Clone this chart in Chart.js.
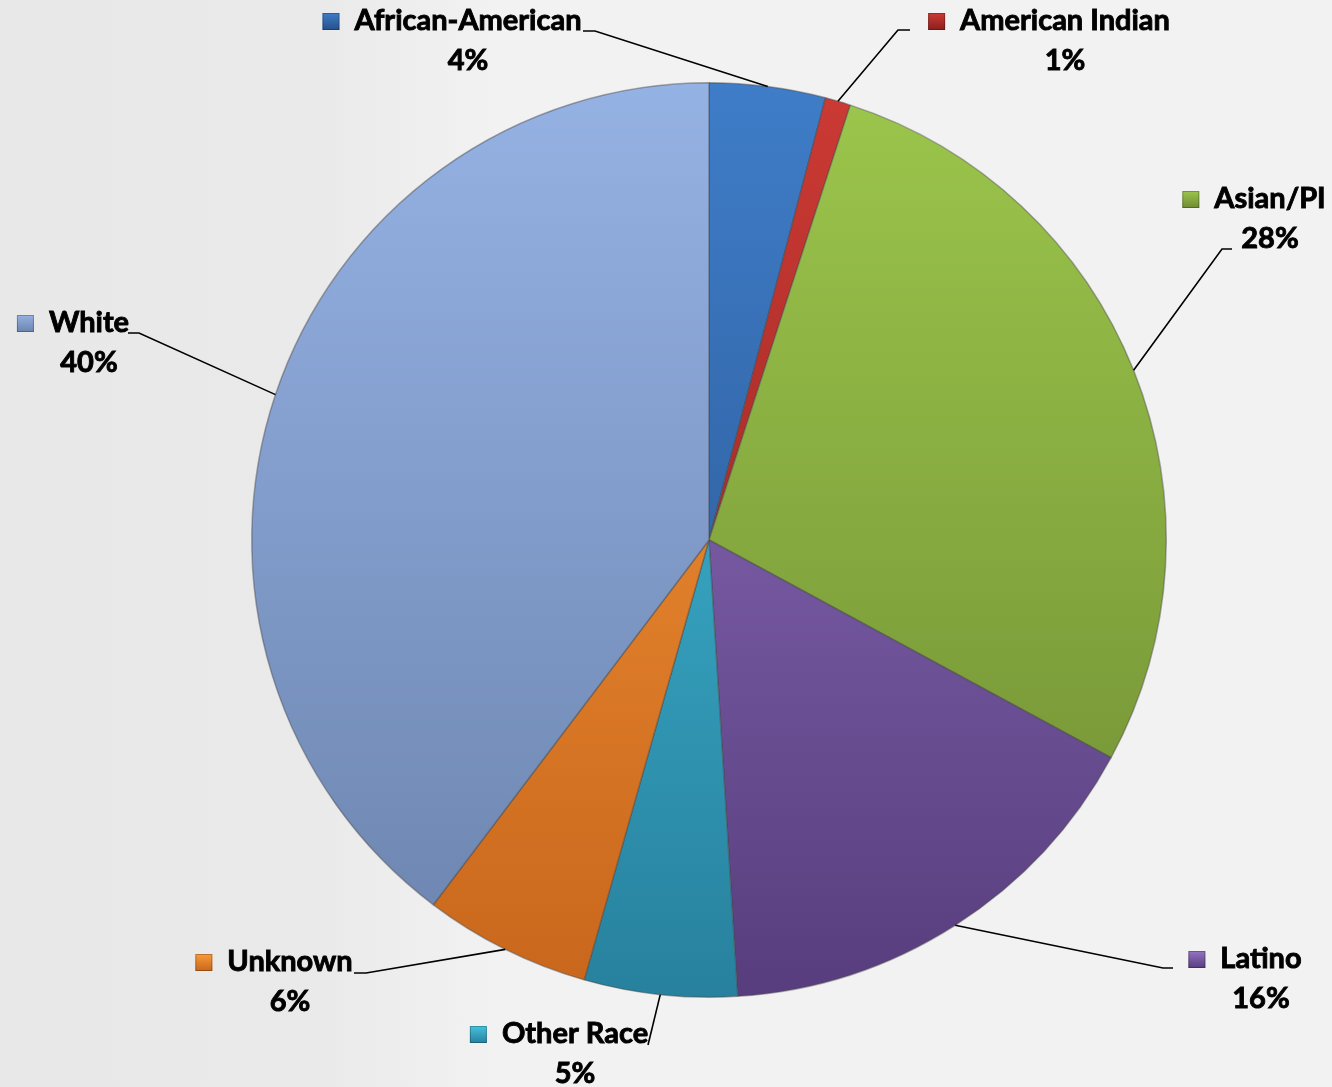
<!DOCTYPE html>
<html>
<head>
<meta charset="utf-8">
<script src="https://cdn.jsdelivr.net/npm/chart.js@4"></script>
<style>
    html, body {
        margin: 0;
        padding: 0;
        width: 1332px;
        height: 1087px;
        overflow: hidden;
    }
    body {
        background: linear-gradient(to right, #e8e8e8 0, #eaeaea 320px, #f2f2f2 500px, #f2f2f2 100%);
    }
    #wrap {
        position: relative;
        width: 1332px;
        height: 1087px;
    }
</style>
</head>
<body>
<div id="wrap"><canvas id="raceChart"></canvas></div>
<script>
// Data (share of each group, %)
const categories = ['African-American', 'American Indian', 'Asian/PI', 'Latino', 'Other Race', 'Unknown', 'White'];
const shares = [4.1, 0.9, 27.9, 16.1, 5.4, 5.9, 39.7];

// Slice colours: light at top of pie, dark at bottom
const topColors = ['#3f7dc8', '#cc3a34', '#9cc64c', '#9474c4', '#44c2de', '#fa9a3a', '#95b2e4'];
const bottomColors = ['#26508a', '#8a1f1c', '#6e8b32', '#573d7d', '#27819e', '#c8661c', '#6b83ad'];

// Label placement: centre of name text, and leader line elbow / end
const labelLayout = [
    { x: 468, y: 21, line: [[595, 31], [583, 31]] },
    { x: 1065, y: 21, line: [[898, 30], [910, 30]] },
    { x: 1270, y: 199, line: [[1222, 249], [1232, 249]] },
    { x: 1261, y: 959, line: [[1163, 968], [1173, 968]] },
    { x: 575, y: 1034, line: [[648, 1045]] },
    { x: 290, y: 962, line: [[366, 973], [354, 973]] },
    { x: 89, y: 323, line: [[139, 333], [128, 333]] }
];

const FONT = 'bold 29px Lato, "Open Sans", sans-serif';

// Vertical gradient over the pie for one slice
function sliceGradient(context) {
    const chart = context.chart;
    const area = chart.chartArea;
    if (!area) return topColors[context.dataIndex];
    const g = chart.ctx.createLinearGradient(0, area.top, 0, area.bottom);
    g.addColorStop(0, topColors[context.dataIndex]);
    g.addColorStop(1, bottomColors[context.dataIndex]);
    return g;
}

// heavier text, closer to the original bold face
function boldText(ctx, text, x, y) {
    ctx.fillText(text, x, y);
    ctx.strokeText(text, x, y);
}

// Draw labels, legend keys and leader lines
const labelPlugin = {
    id: 'outsideLabels',
    afterDatasetsDraw(chart) {
        const ctx = chart.ctx;
        const meta = chart.getDatasetMeta(0);
        const total = shares.reduce((a, b) => a + b, 0);

        ctx.save();
        meta.data.forEach((arc, i) => {
            const lay = labelLayout[i];
            const mid = (arc.startAngle + arc.endAngle) / 2;
            const px = arc.x + Math.cos(mid) * arc.outerRadius;
            const py = arc.y + Math.sin(mid) * arc.outerRadius;

            // leader line
            ctx.strokeStyle = '#000';
            ctx.lineWidth = 1.6;
            ctx.beginPath();
            ctx.moveTo(px, py);
            lay.line.forEach(p => ctx.lineTo(p[0], p[1]));
            ctx.stroke();

            // name text
            ctx.font = FONT;
            ctx.fillStyle = '#000';
            ctx.strokeStyle = '#000';
            ctx.lineWidth = 0.9;
            ctx.textAlign = 'center';
            ctx.textBaseline = 'middle';
            boldText(ctx, categories[i], lay.x, lay.y);

            // legend key square
            const w = ctx.measureText(categories[i]).width;
            const sx = lay.x - w / 2 - 32;
            const sy = lay.y - 8;
            const g = ctx.createLinearGradient(0, sy, 0, sy + 17);
            g.addColorStop(0, topColors[i]);
            g.addColorStop(1, bottomColors[i]);
            ctx.fillStyle = g;
            ctx.fillRect(sx, sy, 17, 17);
            ctx.strokeStyle = 'rgba(0,0,0,0.25)';
            ctx.lineWidth = 1;
            ctx.strokeRect(sx + 0.5, sy + 0.5, 16, 16);

            // percentage
            ctx.fillStyle = '#000';
            ctx.strokeStyle = '#000';
            ctx.lineWidth = 0.9;
            const pct = Math.round(shares[i] / total * 100) + '%';
            boldText(ctx, pct, lay.x, lay.y + 40);
        });
        ctx.restore();
    }
};

new Chart(document.getElementById('raceChart'), {
    type: 'pie',
    data: {
        labels: categories,
        datasets: [{
            data: shares,
            backgroundColor: sliceGradient,
            borderColor: 'rgba(70, 70, 70, 0.45)',
            borderWidth: 1.5
        }]
    },
    options: {
        responsive: true,
        maintainAspectRatio: false,
        animation: false,
        layout: {
            padding: { left: 251, right: 165, top: 82, bottom: 89 }
        },
        plugins: {
            legend: { display: false },
            tooltip: { enabled: false }
        }
    },
    plugins: [labelPlugin]
});
</script>
</body>
</html>
